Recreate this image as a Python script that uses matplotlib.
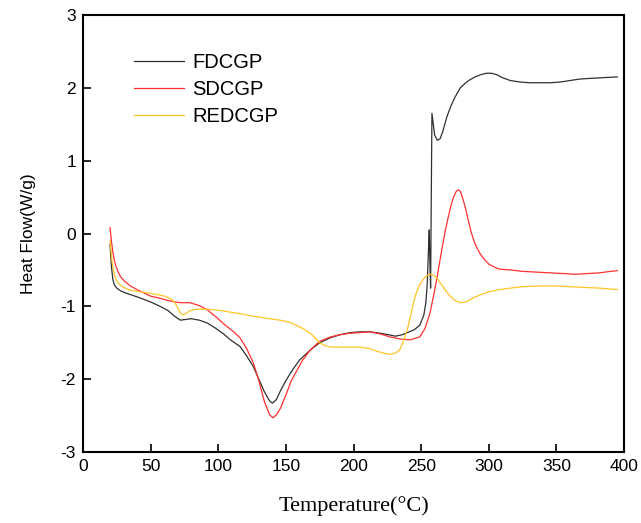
import matplotlib
matplotlib.use("Agg")
import matplotlib.pyplot as plt

# FDCGP (black)
fd_T = [20, 21, 22, 23, 25, 28, 32, 40, 50, 57, 63, 68, 72, 76, 80, 86, 92, 98, 104, 109,
        116, 121, 126, 130, 134, 138, 140, 143, 146, 150, 155, 160, 168, 175, 183, 190, 198,
        205, 212, 220, 226, 231, 236, 240, 245, 249, 252, 253.5, 254.5, 255.5, 256, 256.5,
        257, 257.5, 258, 259, 260, 262, 264, 266, 269, 272, 275, 279, 283, 286, 290, 294,
        298, 302, 306, 310, 316, 323, 330, 338, 346, 353, 360, 367, 375, 385, 395]
fd_v = [-0.15, -0.45, -0.62, -0.7, -0.75, -0.79, -0.82, -0.87, -0.94, -1.0, -1.06, -1.14,
        -1.19, -1.18, -1.17, -1.19, -1.23, -1.3, -1.38, -1.46, -1.55, -1.68, -1.83, -2.0,
        -2.17, -2.3, -2.33, -2.28, -2.16, -2.02, -1.87, -1.74, -1.6, -1.5, -1.43, -1.39,
        -1.36, -1.35, -1.35, -1.37, -1.39, -1.41, -1.39, -1.36, -1.32, -1.26, -1.12, -0.95,
        -0.7, -0.2, 0.05, -0.4, -0.75, 0.5, 1.65, 1.5, 1.35, 1.28, 1.3, 1.4, 1.6, 1.75, 1.87,
        2.0, 2.07, 2.11, 2.15, 2.18, 2.2, 2.2, 2.18, 2.14, 2.1, 2.08, 2.07, 2.07, 2.07, 2.08,
        2.1, 2.12, 2.13, 2.14, 2.15]

# SDCGP (red)
sd_T = [20, 21, 22, 23, 24, 26, 28, 31, 35, 42, 50, 57, 65, 72, 79, 86, 92, 98, 104, 108,
        112, 116, 121, 126, 130, 134, 138, 140.5, 143, 146, 150, 154, 157, 162, 168, 175,
        183, 190, 197, 205, 212, 220, 227, 235, 242, 249, 253, 256.6, 260, 262, 264, 266,
        268, 270, 272, 274, 276, 277.5, 279, 281, 283, 285, 287, 289, 291, 294, 297, 300,
        304, 308, 316, 325, 335, 345, 355, 364, 373, 382, 390, 395]
sd_v = [0.08, -0.1, -0.25, -0.35, -0.43, -0.53, -0.6, -0.66, -0.72, -0.79, -0.86, -0.89,
        -0.93, -0.95, -0.95, -0.99, -1.05, -1.14, -1.24, -1.3, -1.36, -1.43, -1.58, -1.78,
        -2.02, -2.3, -2.49, -2.53, -2.49, -2.4, -2.22, -2.02, -1.92, -1.75, -1.6, -1.48,
        -1.42, -1.39, -1.37, -1.36, -1.35, -1.38, -1.42, -1.45, -1.46, -1.42, -1.3, -1.09,
        -0.78, -0.58, -0.36, -0.15, 0.05, 0.22, 0.38, 0.5, 0.58, 0.6, 0.58, 0.47, 0.33, 0.17,
        0.02, -0.1, -0.19, -0.29, -0.36, -0.42, -0.46, -0.49, -0.5, -0.52, -0.53, -0.54,
        -0.55, -0.56, -0.55, -0.54, -0.52, -0.51]

# REDCGP (yellow)
re_T = [20, 21, 22, 23.7, 25, 27, 30, 35, 42, 49.5, 55, 60.6, 65, 68, 70, 72, 74, 76, 79,
        83, 86.5, 92, 97.6, 103, 108.7, 116, 124, 131, 138, 145.7, 153, 160, 164, 168, 172,
        175, 179, 183, 188, 194, 200, 205, 212, 216, 220, 224, 227, 231, 234, 236, 238, 240,
        242, 244, 246, 248, 250, 252, 254, 256.6, 259, 262, 265, 268, 271, 275, 279, 283,
        286, 290, 294, 300, 308, 316, 325, 338, 350, 360, 370, 382, 395]
re_v = [-0.1, -0.3, -0.45, -0.6, -0.65, -0.7, -0.74, -0.78, -0.8, -0.82, -0.84, -0.86, -0.9,
        -0.95, -1.02, -1.09, -1.12, -1.1, -1.06, -1.04, -1.04, -1.04, -1.05, -1.06, -1.08,
        -1.1, -1.13, -1.15, -1.17, -1.19, -1.22, -1.28, -1.32, -1.37, -1.44, -1.5, -1.54,
        -1.56, -1.56, -1.56, -1.56, -1.56, -1.58, -1.61, -1.63, -1.65, -1.66, -1.64, -1.6,
        -1.52, -1.42, -1.3, -1.15, -0.98, -0.84, -0.74, -0.67, -0.62, -0.58, -0.56, -0.57,
        -0.62, -0.7, -0.78, -0.85, -0.92, -0.95, -0.94, -0.91, -0.87, -0.84, -0.8, -0.77,
        -0.75, -0.73, -0.72, -0.72, -0.73, -0.74, -0.75, -0.77]

labels = ["FDCGP", "SDCGP", "REDCGP"]
x_ticks = [0, 50, 100, 150, 200, 250, 300, 350, 400]
y_ticks = [-3, -2, -1, 0, 1, 2, 3]

fig = plt.figure(figsize=(6.41, 5.23), dpi=100)
ax = fig.add_axes([83/641, 1 - 452/523, (624 - 83)/641, (452 - 15)/523])

ax.plot(fd_T, fd_v, color="#303030", lw=0.9, label=labels[0])
ax.plot(sd_T, sd_v, color="#ff3030", lw=0.9, label=labels[1])
ax.plot(re_T, re_v, color="#ffc426", lw=0.9, label=labels[2])

ax.set_xlim(0, 400)
ax.set_ylim(-3, 3)
ax.set_xticks(x_ticks)
ax.set_yticks(y_ticks)
ax.set_xticklabels([str(t) for t in x_ticks], family="Liberation Sans", fontsize=12.5)
ax.set_yticklabels([str(t) for t in y_ticks], family="Liberation Sans", fontsize=12.5)
ax.tick_params(direction="in", length=6, width=1.2, top=False, right=False, pad=5)
for s in ax.spines.values():
    s.set_linewidth(1.5)

ax.set_xlabel("Temperature(°C)", family="Liberation Serif", fontsize=16, labelpad=16)
ax.set_ylabel("Heat Flow(W/g)", family="Liberation Sans", fontsize=12.5, labelpad=18)

leg = ax.legend(loc="upper left", bbox_to_anchor=(0.06, 0.955), frameon=False,
                prop={"family": "Liberation Sans", "size": 14.5}, handlelength=2.5,
                handletextpad=0.4, labelspacing=0.4)

fig.savefig("out.png", dpi=100)
